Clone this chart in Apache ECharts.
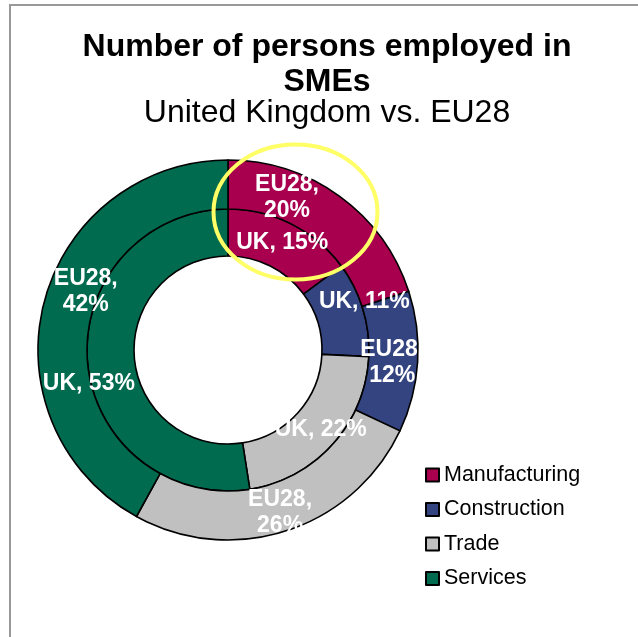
<!DOCTYPE html>
<html>
<head>
<meta charset="utf-8">
<script src="https://cdn.jsdelivr.net/npm/echarts@6/dist/echarts.min.js"></script>
<style>
  html, body { margin: 0; padding: 0; background: #fff; }
  #chart { width: 638px; height: 637px; }
</style>
</head>
<body>
<div id="chart"></div>
<script>
// Share of persons employed in SMEs by sector
const sectors = ['Manufacturing', 'Construction', 'Trade', 'Services'];
const ukShare = [15, 11, 22, 53];
const eu28Share = [20, 12, 26, 42];
const sectorColors = ['#A8004F', '#334480', '#C0C0C0', '#006B4F'];

// Nudges for the in-ring labels (pixels)
const ukLabelOffsets = [[0, 0], [21, -13], [3, -1], [-19, 24]];
const euLabelOffsets = [[-40, -16], [-4, 2], [0, 2], [21, -16]];

const FONT = '"Liberation Sans", Arial, sans-serif';
const CENTER = [228, 350];

function ringData(values, offsets) {
  return values.map((v, i) => ({
    name: sectors[i],
    value: v,
    itemStyle: { color: sectorColors[i] },
    label: { offset: offsets[i] }
  }));
}

const chart = echarts.init(document.getElementById('chart'), null, { renderer: 'canvas' });

chart.setOption({
  animation: false,
  backgroundColor: '#ffffff',
  title: [
    {
      text: 'Number of persons employed in\nSMEs',
      left: 327,
      top: 30,
      textAlign: 'center',
      padding: 0,
      textStyle: { fontFamily: FONT, fontSize: 32, fontWeight: 'bold', color: '#000', lineHeight: 35 }
    },
    {
      text: 'United Kingdom vs. EU28',
      left: 327,
      top: 97,
      textAlign: 'center',
      padding: 0,
      textStyle: { fontFamily: FONT, fontSize: 32, fontWeight: 'normal', color: '#000', lineHeight: 32 }
    }
  ],
  legend: {
    data: sectors,
    orient: 'vertical',
    left: 425,
    top: 464,
    padding: 0,
    itemWidth: 13,
    itemHeight: 13,
    itemGap: 12.5,
    icon: 'rect',
    itemStyle: { borderColor: '#000', borderWidth: 2 },
    textStyle: { fontFamily: FONT, fontSize: 21.5, color: '#000', lineHeight: 22 }
  },
  series: [
    {
      name: 'UK',
      type: 'pie',
      center: CENTER,
      radius: [94, 141],
      startAngle: 90,
      clockwise: true,
      avoidLabelOverlap: false,
      labelLine: { show: false },
      itemStyle: { borderColor: '#000', borderWidth: 1.6 },
      label: {
        show: true,
        position: 'inside',
        color: '#fff',
        fontFamily: FONT,
        fontSize: 23,
        fontWeight: 'bold',
        lineHeight: 25,
        formatter: p => 'UK, ' + p.value + '%'
      },
      emphasis: { disabled: true },
      data: ringData(ukShare, ukLabelOffsets)
    },
    {
      name: 'EU28',
      type: 'pie',
      center: CENTER,
      radius: [141, 190],
      startAngle: 90,
      clockwise: true,
      avoidLabelOverlap: false,
      labelLine: { show: false },
      itemStyle: { borderColor: '#000', borderWidth: 1.6 },
      label: {
        show: true,
        position: 'inside',
        color: '#fff',
        fontFamily: FONT,
        fontSize: 23,
        fontWeight: 'bold',
        lineHeight: 26,
        formatter: p => 'EU28,\n' + p.value + '%'
      },
      emphasis: { disabled: true },
      data: ringData(eu28Share, euLabelOffsets)
    }
  ],
  graphic: [
    {
      type: 'rect',
      silent: true,
      shape: { x: 10, y: 5, width: 700, height: 700 },
      style: { fill: 'none', stroke: '#999999', lineWidth: 2 },
      z: 0
    },
    {
      type: 'ellipse',
      silent: true,
      shape: { cx: 295.5, cy: 212, rx: 82, ry: 67.5 },
      style: { fill: 'none', stroke: '#FFFF66', lineWidth: 4 },
      z: 100
    }
  ]
});
</script>
</body>
</html>
